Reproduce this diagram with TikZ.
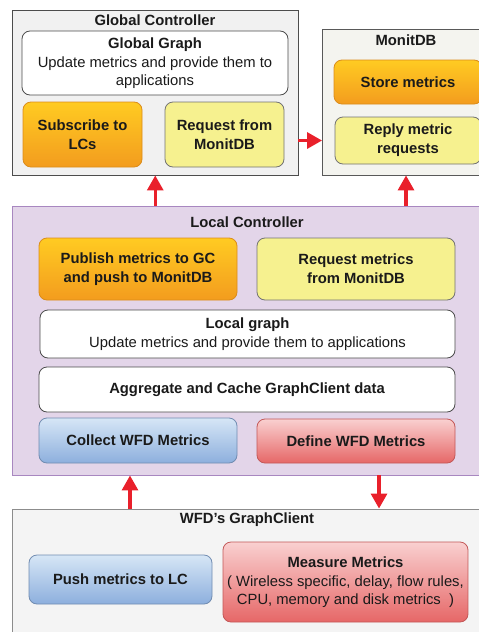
\documentclass[tikz,border=0pt]{standalone}
\usepackage{fontspec}
\setmainfont{Liberation Sans}
\usetikzlibrary{arrows.meta}

\definecolor{gcfill}{HTML}{F1F1F1}
\definecolor{dbfill}{HTML}{F4F4EF}
\definecolor{lcfill}{HTML}{E3D5E9}
\definecolor{lcline}{HTML}{A887C0}
\definecolor{wfdfill}{HTML}{F4F4F4}
\definecolor{orangetop}{HTML}{FFCB22}
\definecolor{orangebot}{HTML}{F39C1E}
\definecolor{yellowbg}{HTML}{F6F18F}
\definecolor{bluetop}{HTML}{D6E6F6}
\definecolor{bluebot}{HTML}{8DAFDD}
\definecolor{redtop}{HTML}{F9D0D0}
\definecolor{redbot}{HTML}{E66767}
\definecolor{flowred}{HTML}{E9202B}
\definecolor{ink}{HTML}{1A1A1A}

\tikzset{
  every node/.style={text=ink, font=\fontsize{14.8}{19}\selectfont},
  container/.style={draw=#1, line width=0.9pt, inner sep=0pt},
  title/.style={font=\fontsize{14.8}{19}\selectfont\bfseries},
  box/.style={rounded corners=8pt, line width=0.8pt, align=center, inner sep=0pt,
    font=\fontsize{14.8}{19}\selectfont\bfseries},
  whitebox/.style={box, draw=black!70, fill=white},
  orangebox/.style={box, draw=orangebot!90!black, top color=orangetop, bottom color=orangebot},
  yellowbox/.style={box, draw=black!55, fill=yellowbg},
  bluebox/.style={box, draw=bluebot!80!black, top color=bluetop, bottom color=bluebot},
  redbox/.style={box, draw=redbot!85!black, top color=redtop, bottom color=redbot},
  flow/.style={draw=flowred, line width=3.2pt, -{Triangle[length=15pt,width=16pt]}},
}

\begin{document}
\begin{tikzpicture}[x=1pt, y=-1pt]
  \useasboundingbox (0,0) rectangle (479,632);
  \clip (0,0) rectangle (479,632);

  % global controller
  \node[container=black!70, fill=gcfill, minimum width=285.5, minimum height=165] (gc) at (155.25,92.5) {};
  \node[title] (gctitle) at (155,20) {Global Controller};
  \node[whitebox, minimum width=266, minimum height=64] (ggraph) at (155,63)
    {Global Graph\\\mdseries Update metrics and provide them to\\[-1pt]\mdseries applications};
  \node[orangebox, minimum width=119, minimum height=65] (subscribe) at (82.5,134.5) {Subscribe to\\LCs};
  \node[yellowbox, minimum width=119, minimum height=65] (gcrequest) at (224.5,134.5) {Request from\\MonitDB};

  % monitoring database
  \node[container=black!65, fill=dbfill, minimum width=167, minimum height=146] (monit) at (406,102) {};
  \node[title] (monittitle) at (406,40) {MonitDB};
  \node[orangebox, minimum width=148, minimum height=44] (store) at (408,82) {Store metrics};
  \node[yellowbox, minimum width=146, minimum height=47] (reply) at (408,140.5) {Reply metric\\requests};

  % local controller
  \node[container=lcline, fill=lcfill, minimum width=469, minimum height=269] (lc) at (247,340.5) {};
  \node[title] (lctitle) at (247,222) {Local Controller};
  \node[orangebox, minimum width=198, minimum height=62] (publish) at (138,269)
    {Publish metrics to GC\\and push to MonitDB};
  \node[yellowbox, minimum width=198, minimum height=62] (lcrequest) at (356,269)
    {Request metrics\\from MonitDB};
  \node[whitebox, minimum width=415, minimum height=48] (lgraph) at (247.5,334)
    {Local graph\\\mdseries Update metrics and provide them to applications};
  \node[whitebox, minimum width=416, minimum height=45] (aggregate) at (247,389.5)
    {Aggregate and Cache GraphClient data};
  \node[bluebox, minimum width=198, minimum height=45] (collect) at (138,440.5) {Collect WFD Metrics};
  \node[redbox, minimum width=198, minimum height=44] (define) at (356,441) {Define WFD Metrics};

  % graph client on the WFD
  \node[container=black!45, fill=wfdfill, minimum width=469, minimum height=140] (wfd) at (247,579) {};
  \node[title] (wfdtitle) at (247,520) {WFD's GraphClient};
  \node[bluebox, minimum width=183, minimum height=49] (push) at (120.5,579.5) {Push metrics to LC};
  \node[redbox, minimum width=245, minimum height=80] (measure) at (345.5,582)
    {Measure Metrics\\\mdseries ( Wireless specific, delay, flow rules,\\[-1pt]\mdseries CPU, memory and disk metrics~~)};

  % flows between the components
  \draw[flow] (lc.north -| gc.south) -- (gc.south);
  \draw[flow] (lc.north -| monit.south) -- (monit.south);
  \draw[flow] (gc.east |- reply) -- (monit.west |- reply);
  \draw[flow] (wfd.north -| 130,0) -- (lc.south -| 130,0);
  \draw[flow] (lc.south -| 379,0) -- (wfd.north -| 379,0);
\end{tikzpicture}
\end{document}
